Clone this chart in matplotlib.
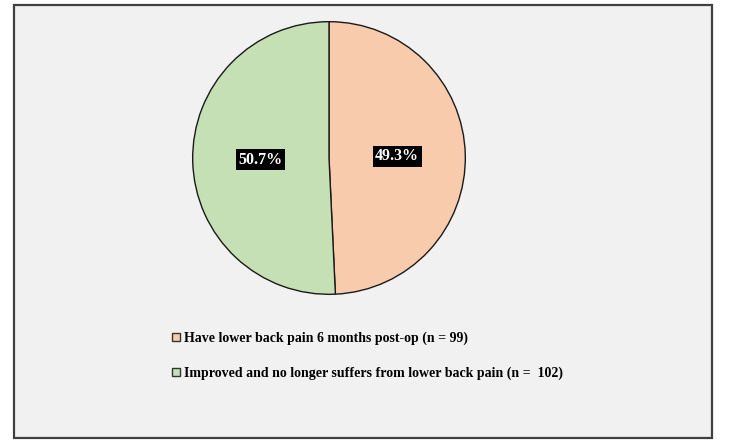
import matplotlib
matplotlib.use("Agg")
import matplotlib.pyplot as plt
from matplotlib.patches import Rectangle
import numpy as np

categories = ["Have lower back pain 6 months post-op (n = 99)",
              "Improved and no longer suffers from lower back pain (n =  102)"]
counts = [99, 102]
colors = ["#f8cbad", "#c5e0b4"]
label_dist = [0.50, 0.50]

W, H = 750, 444
fig = plt.figure(figsize=(7.5, 4.44), dpi=100)
fig.patch.set_facecolor("white")

fig.patches.append(Rectangle((14 / W, 1 - 438 / H), (712 - 14) / W, (438 - 5) / H,
                             transform=fig.transFigure, facecolor="#f1f1f1",
                             edgecolor="#404040", linewidth=1.6, zorder=-5))

ax = fig.add_axes([192 / W, 1 - 295 / H, 274 / W, 274 / H])
ax.set_zorder(2)
ax.set_facecolor("none")
wedges, texts, autotexts = ax.pie(
    counts, colors=colors, startangle=90, counterclock=False,
    autopct="%.1f%%", pctdistance=0.5,
    wedgeprops=dict(edgecolor="#1a1a1a", linewidth=1.0))
ax.set_xlim(-1.005, 1.005)
ax.set_ylim(-1.005, 1.005)
ax.set_aspect("equal")

for w, t, d in zip(wedges, autotexts, label_dist):
    mid = np.deg2rad((w.theta1 + w.theta2) / 2)
    t.set_position((d * np.cos(mid), d * np.sin(mid)))
    t.set_fontfamily("Liberation Serif")
    t.set_fontweight("bold")
    t.set_fontsize(11.5)
    t.set_color("white")
    t.set_bbox(dict(facecolor="black", edgecolor="none", pad=1.8))

leg = fig.legend(wedges, categories, loc="upper left",
                 bbox_to_anchor=(159 / W, 1 - 319 / H), frameon=False,
                 prop=dict(family="Liberation Serif", weight="bold", size=10),
                 handlelength=0.6, handleheight=0.6, handletextpad=0.3,
                 labelspacing=1.55)
leg.set_zorder(3)
for h in leg.legend_handles:
    h.set_edgecolor("#333333")
    h.set_linewidth(1.0)

fig.savefig("out.png", dpi=100)
